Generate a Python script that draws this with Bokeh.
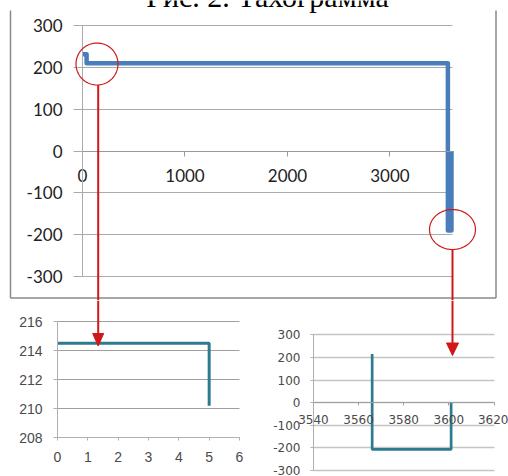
import numpy as np
from bokeh.plotting import figure
from bokeh.models import Range1d, LinearAxis, FixedTicker, Label, PolyAnnotation, Grid
from bokeh.layouts import column, row
from bokeh.embed import file_html
from bokeh.resources import INLINE

# ---------------- data ----------------
title_text = "Рис. 2. Тахограмма"

main_t = [0, 40, 40, 3565, 3565, 3600, 3600]
main_v = [231, 231, 210, 210, -190, -190, 0]
main_xticks = [0, 1000, 2000, 3000]
main_xlabels = ["0", "1000", "2000", "3000"]
main_yticks = [-300, -200, -100, 0, 100, 200, 300]
main_ylabels = ["-300", "-200", "-100", "0", "100", "200", "300"]

start_t = [0, 5, 5]
start_v = [214.5, 214.5, 210.2]
start_xticks = [0, 1, 2, 3, 4, 5, 6]
start_xlabels = ["0", "1", "2", "3", "4", "5", "6"]
start_yticks = [208, 210, 212, 214, 216]
start_ylabels = ["208", "210", "212", "214", "216"]

stop_t = [3566, 3566, 3601, 3601]
stop_v = [215, -207, -207, 0]
stop_xticks = [3540, 3560, 3580, 3600, 3620]
stop_xlabels = ["3540", "3560", "3580", "3600", "3620"]
stop_yticks = [-300, -200, -100, 0, 100, 200, 300]
stop_ylabels = ["-300", "-200", "-100", "0", "100", "200", "300"]

# ---------------- styles ----------------
MAIN_BLUE = "#4a7ebb"
TEAL = "#2e7b8f"
RED = "#d01818"
GRID = "#ababab"
HAS_CROSS = "cross_bounds" in Grid.properties()


class Geo:
    """pixel geometry of one panel: maps canvas pixels <-> data"""

    def __init__(self, w, h, ox, oy, xa, xb, ya, yb):
        # xa=(data, canvas_px), xb=(data, canvas_px); same for y (px from top)
        self.w, self.h, self.ox, self.oy = w, h, ox, oy
        self.kx = (xb[0] - xa[0]) / (xb[1] - xa[1])
        self.x0 = xa[0] - (xa[1] - ox) * self.kx
        self.ky = (yb[0] - ya[0]) / (yb[1] - ya[1])
        self.y0 = ya[0] - (ya[1] - oy) * self.ky

    def fx(self, px):
        return self.x0 + (px - self.ox) * self.kx

    def fy(self, py):
        return self.y0 + (py - self.oy) * self.ky

    def xr(self):
        return Range1d(self.fx(self.ox), self.fx(self.ox + self.w))

    def yr(self):
        return Range1d(self.fy(self.oy + self.h), self.fy(self.oy))


def base_fig(g):
    p = figure(width=g.w, height=g.h, x_range=g.xr(), y_range=g.yr(),
               output_backend="svg", toolbar_location=None,
               x_axis_type=None, y_axis_type=None,
               min_border_left=0, min_border_right=0,
               min_border_top=0, min_border_bottom=0)
    p.outline_line_color = None
    p.background_fill_color = "white"
    p.border_fill_color = "white"
    return p


def poly(p, g, pts, color, width, fill=None):
    p.add_layout(PolyAnnotation(xs=[g.fx(a) for a, b in pts], ys=[g.fy(b) for a, b in pts],
                                fill_color=fill, fill_alpha=1.0 if fill else 0.0,
                                line_color=color, line_alpha=1.0, line_width=width))


def ring(cx, cy, rx, ry, n=72):
    ang = np.linspace(0, 2 * np.pi, n + 1)
    return list(zip(cx + rx * np.cos(ang), cy + ry * np.sin(ang)))


def style_axis(ax, font, size, color, line_color, tick_out, standoff):
    ax.major_label_text_font = font
    ax.major_label_text_font_size = size
    ax.major_label_text_color = color
    ax.axis_line_color = line_color
    ax.major_tick_line_color = line_color
    ax.major_tick_out = tick_out
    ax.major_tick_in = 0
    ax.minor_tick_line_color = None
    ax.major_label_standoff = standoff


def hgrid(p, ticks, x_from, x_to, color, width):
    if HAS_CROSS:
        p.add_layout(Grid(dimension=1, ticker=FixedTicker(ticks=ticks),
                          cross_bounds=(x_from, x_to),
                          grid_line_color=color, grid_line_width=width))
    else:
        p.segment(x0=[x_from] * len(ticks), y0=ticks, x1=[x_to] * len(ticks), y1=ticks,
                  line_color=color, line_width=width)


def axes(p, xt, xl, xb, x_at, yt, yl, yb, y_at, font, size, color, xline, yline,
         xtick, ytick, xstand, ystand):
    yax = LinearAxis(ticker=FixedTicker(ticks=yt), fixed_location=y_at, bounds=yb,
                     major_label_overrides=dict(zip(yt, yl)))
    style_axis(yax, font, size, color, yline, ytick, ystand)
    p.add_layout(yax, "left")
    xax = LinearAxis(ticker=FixedTicker(ticks=xt), fixed_location=x_at, bounds=xb,
                     major_label_overrides=dict(zip(xt, xl)))
    style_axis(xax, font, size, color, xline, xtick, xstand)
    p.add_layout(xax, "below")


# ---------------- main chart ----------------
gm = Geo(508, 300, 0, 0, (0, 82), (3610, 452), (300, 25), (-300, 276))
top = base_fig(gm)
hgrid(top, main_yticks, 0, 3610, GRID, 1)
axes(top, main_xticks, main_xlabels, (0, 3610), 0,
     main_yticks, main_ylabels, (-300, 300), 0,
     "Lato", "17px", "#222222", "#999999", GRID, 5, 9, 13, 11)
top.line(main_t, main_v, line_color=MAIN_BLUE, line_width=4.5, line_join="round")

# chart border
poly(top, gm, [(10, 10), (10, 297.5)], "#8a8a8a", 1.5)
poly(top, gm, [(10, 297.5), (495.5, 297.5)], "#8a8a8a", 1.5)
poly(top, gm, [(495.5, 297.5), (495.5, 10)], "#8a8a8a", 1.5)
# red call-outs
poly(top, gm, ring(96.5, 63.5, 21, 21), RED, 1.2)
poly(top, gm, ring(452, 229, 23, 20), RED, 1.2)
poly(top, gm, [(97.7, 84.5), (97.7, 300)], RED, 2)
poly(top, gm, [(452, 249), (452, 300)], RED, 2)
# title: only its lower part lies inside the page, as in the source scan
top.add_layout(Label(x=gm.fx(267), y=gm.fy(-4), text=title_text, text_align="center",
                     text_baseline="alphabetic", text_font="Liberation Serif",
                     text_font_size="30px", text_color="black"))

# ---------------- inset: start ----------------
gl = Geo(254, 176, 0, 300, (0, 57), (6, 239), (216, 321), (208, 437.3))
left = base_fig(gl)
hgrid(left, start_yticks, 0, 6, "#a0a0a0", 1)
axes(left, start_xticks, start_xlabels, (0, 6), 208,
     start_yticks, start_ylabels, (208, 216), 0,
     "Liberation Sans", "14px", "#4a4a4a", "#b0b0b0", "#b0b0b0", 3, 4, 11, 11)
left.line(start_t, start_v, line_color=TEAL, line_width=3)
poly(left, gl, [(97.7, 300), (97.7, 334)], RED, 2)
poly(left, gl, [(92.2, 333), (103.2, 333), (97.7, 345.5)], RED, 1, fill=RED)

# ---------------- inset: stop ----------------
gr = Geo(254, 176, 254, 300, (3540, 313), (3620, 493.5), (300, 334.3), (-300, 470))
right = base_fig(gr)
hgrid(right, stop_yticks, 3540, 3620, "#c4c4c4", 1.3)
axes(right, stop_xticks, stop_xlabels, (3540, 3620), 0,
     stop_yticks, stop_ylabels, (-300, 300), 3540,
     "DejaVu Sans", "12px", "#4a4a4a", "#a0a0a0", "#b0b0b0", 3, 3, 9, 10)
right.line(stop_t, stop_v, line_color=TEAL, line_width=2.7)
poly(right, gr, [(452, 300), (452, 343)], RED, 2)
poly(right, gr, [(446, 342.5), (458, 342.5), (452, 355)], RED, 1, fill=RED)

layout = column(top, row(left, right, spacing=0), spacing=0)
open("out.html", "w").write(file_html(layout, INLINE))
